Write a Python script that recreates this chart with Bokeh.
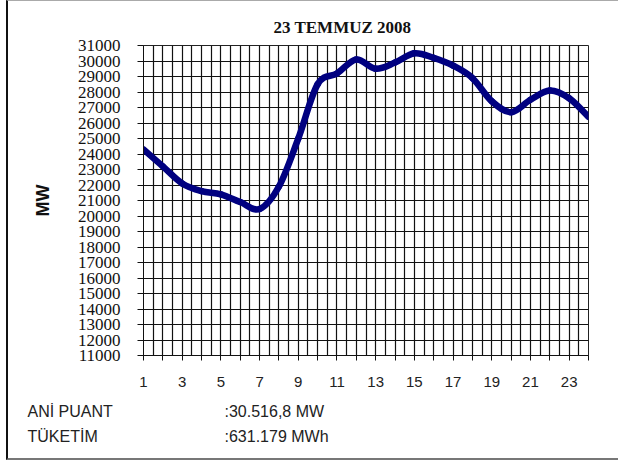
from bokeh.plotting import figure
from bokeh.models import Range1d, FixedTicker
from bokeh.core.properties import value
from bokeh.embed import file_html
from bokeh.resources import INLINE

# ---- data ----
title_text = "23 TEMMUZ 2008"
hours = list(range(1, 25))
mw = [24300, 23200, 22100, 21600, 21400, 20900, 20450, 21900, 25000, 28500,
      29200, 30100, 29500, 29900, 30500, 30200, 29700, 28900, 27400, 26700,
      27500, 28100, 27600, 26400]
y_ticks = list(range(11000, 31001, 1000))
x_ticks = list(range(1, 25))
x_tick_labels = {h: (str(h) if h % 2 == 1 else "") for h in x_ticks}
x_grid = [1 + 0.5 * i for i in range(47)]
y_label = "MW"
footer_names = ["ANİ PUANT", "TÜKETİM"]
footer_values = [":30.516,8 MW", ":631.179  MWh"]

W, H1, H2 = 612, 398, 62
p = figure(width=W, height=H1, output_backend="svg", toolbar_location=None,
           x_range=Range1d(1, 24), y_range=Range1d(11000, 31000),
           min_border_left=135, min_border_right=32, min_border_top=44,
           min_border_bottom=44, background_fill_color="white",
           border_fill_color="white")

p.title.text = title_text
p.title.align = "left"
p.title.offset = 130
p.title.text_font = "Liberation Serif"
p.title.text_font_size = "17px"
p.title.text_font_style = "bold"
p.title.text_color = "#111111"
p.title.standoff = 17

p.outline_line_color = "#222222"
p.outline_line_width = 1

# grids
p.xgrid.ticker = FixedTicker(ticks=x_grid)
p.ygrid.ticker = FixedTicker(ticks=y_ticks)
for g in (p.xgrid[0], p.ygrid[0]):
    g.grid_line_color = "#111111"
    g.grid_line_width = 1.2
    g.grid_line_alpha = 1

# x axis
xa = p.xaxis[0]
xa.ticker = FixedTicker(ticks=x_ticks)
xa.major_label_overrides = x_tick_labels
xa.major_tick_out = 5
xa.major_tick_in = 0
xa.minor_tick_out = 0
xa.minor_tick_in = 0
xa.axis_line_color = "#111111"
xa.major_tick_line_color = "#111111"
xa.major_label_standoff = 16
xa.major_label_text_font = "Liberation Sans"
xa.major_label_text_font_size = "15px"
xa.major_label_text_color = "#222222"

# y axis
ya = p.yaxis[0]
ya.ticker = FixedTicker(ticks=y_ticks)
ya.major_tick_out = 6
ya.major_tick_in = 0
ya.minor_tick_out = 0
ya.minor_tick_in = 0
ya.axis_line_color = "#111111"
ya.major_tick_line_color = "#111111"
ya.major_label_standoff = 17
ya.major_label_text_font = "Liberation Sans Narrow"
ya.major_label_text_font_size = "17px"
ya.major_label_text_color = "#111111"
ya.axis_label = y_label
ya.axis_label_text_font = "Liberation Sans"
ya.axis_label_text_font_style = "bold"
ya.axis_label_text_font_size = "18px"
ya.axis_label_text_color = "#111111"
ya.axis_label_standoff = 22

# smooth (Excel-like) curve through the data points
n = len(hours)
x0, y0, x1, y1, cx0, cy0, cx1, cy1 = [], [], [], [], [], [], [], []
for i in range(n - 1):
    xm, ym = (hours[i - 1], mw[i - 1]) if i > 0 else (hours[i], mw[i])
    xp, yp = (hours[i + 2], mw[i + 2]) if i + 2 < n else (hours[i + 1], mw[i + 1])
    x0.append(hours[i]); y0.append(mw[i])
    x1.append(hours[i + 1]); y1.append(mw[i + 1])
    cx0.append(hours[i] + (hours[i + 1] - xm) / 6.0)
    cy0.append(mw[i] + (mw[i + 1] - ym) / 6.0)
    cx1.append(hours[i + 1] - (xp - hours[i]) / 6.0)
    cy1.append(mw[i + 1] - (yp - mw[i]) / 6.0)
p.bezier(x0=x0, y0=y0, x1=x1, y1=y1, cx0=cx0, cy0=cy0, cx1=cx1, cy1=cy1,
         line_color="#000080", line_width=6.5, line_cap="round")

# footer panel (pixel-like coordinates), a separate root so it is not frame-aligned
f = figure(width=W, height=H2, output_backend="svg", toolbar_location=None,
           x_range=Range1d(0, W), y_range=Range1d(0, H2),
           min_border=0, background_fill_color="white", border_fill_color="white")
f.axis.visible = False
f.grid.visible = False
f.outline_line_color = None
f.text(x=[19, 19], y=[49, 24], text=footer_names,
       text_font=value("Liberation Sans"), text_font_size="16px",
       text_color="#222222", text_baseline="middle")
f.text(x=[216, 216], y=[49, 24], text=footer_values,
       text_font=value("Liberation Sans"), text_font_size="16px",
       text_color="#222222", text_baseline="middle")

p.styles = {"margin-left": "6px", "border-left": "2px solid #111111",
            "border-top": "1px solid #aaaaaa"}
f.styles = {"margin-left": "6px", "border-left": "2px solid #111111",
            "border-bottom": "2px solid #777777"}

open("out.html", "w").write(file_html([p, f], INLINE))
